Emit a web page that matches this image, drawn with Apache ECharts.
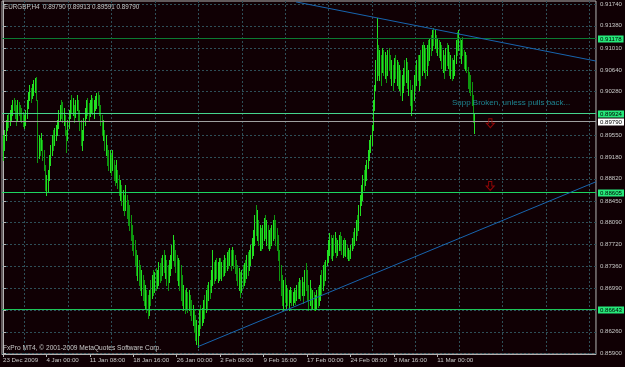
<!DOCTYPE html>
<html><head><meta charset="utf-8">
<script src="https://cdn.jsdelivr.net/npm/echarts@6/dist/echarts.min.js"></script>
<style>html,body{margin:0;padding:0;background:#100004;}#c{width:625px;height:367px;}</style>
</head><body><div id="c"></div>
<script>
const titleText = 'EURGBP,H4  0.89790 0.89913 0.89591 0.89790';
const copyrightText = 'FxPro MT4, \u00a9 2001-2009 MetaQuotes Software Corp.';

const highs = [
0.8955,0.8964,0.8980,0.8989,0.8992,0.8997,0.9005,0.9014,0.9017,0.9014,
0.9005,0.9014,0.9010,0.9005,0.9000,0.8994,0.8989,0.8997,0.9014,0.9027,
0.9039,0.9034,0.9040,0.9047,0.9051,0.9052,0.9014,0.8955,0.8950,0.8958,
0.8947,0.8930,0.8905,0.8888,0.8897,0.8922,0.8938,0.8955,0.8964,0.8967,
0.8972,0.8980,0.8997,0.9005,0.9014,0.9010,0.9000,0.8989,0.8964,0.8980,
0.8997,0.9014,0.9022,0.9017,0.9005,0.9014,0.9022,0.9014,0.8997,0.8980,
0.8964,0.8984,0.9000,0.9014,0.9017,0.9009,0.9014,0.9022,0.9017,0.9014,
0.9020,0.9025,0.9027,0.9022,0.9005,0.8989,0.8980,0.8964,0.8955,0.8938,
0.8930,0.8930,0.8922,0.8930,0.8913,0.8905,0.8913,0.8897,0.8888,0.8880,
0.8872,0.8863,0.8855,0.8872,0.8855,0.8846,0.8838,0.8821,0.8805,0.8788,
0.8779,0.8763,0.8754,0.8746,0.8738,0.8729,0.8721,0.8713,0.8704,0.8696,
0.8688,0.8696,0.8713,0.8721,0.8729,0.8726,0.8733,0.8729,0.8743,0.8741,0.8749,
0.8754,0.8763,0.8754,0.8746,0.8738,0.8746,0.8754,0.8771,0.8788,0.8779,
0.8763,0.8754,0.8749,0.8746,0.8738,0.8721,0.8704,0.8696,0.8699,0.8693,
0.8696,0.8688,0.8679,0.8671,0.8662,0.8654,0.8646,0.8637,0.8662,0.8671,
0.8666,0.8679,0.8688,0.8696,0.8704,0.8709,0.8713,0.8729,0.8763,0.8743,
0.8746,0.8749,0.8743,0.8749,0.8749,0.8743,0.8746,0.8754,0.8749,0.8759,
0.8763,0.8766,0.8763,0.8768,0.8763,0.8754,0.8746,0.8738,0.8733,0.8726,
0.8729,0.8738,0.8741,0.8746,0.8754,0.8759,0.8763,0.8771,0.8783,0.8796,
0.8821,0.8838,0.8830,0.8813,0.8805,0.8800,0.8805,0.8816,0.8821,0.8813,
0.8805,0.8796,0.8800,0.8805,0.8813,0.8821,0.8813,0.8800,0.8788,0.8763,
0.8738,0.8721,0.8713,0.8716,0.8704,0.8699,0.8696,0.8701,0.8696,0.8693,
0.8699,0.8696,0.8704,0.8709,0.8716,0.8713,0.8718,0.8709,0.8729,0.8741,
0.8729,0.8704,0.8713,0.8699,0.8696,0.8693,0.8688,0.8696,0.8701,0.8704,0.8721,
0.8729,0.8738,0.8743,0.8746,0.8763,0.8779,0.8791,0.8788,0.8783,0.8788,
0.8793,0.8783,0.8779,0.8788,0.8793,0.8786,0.8779,0.8783,0.8779,0.8771,
0.8766,0.8763,0.8771,0.8783,0.8793,0.8800,0.8813,0.8821,0.8838,0.8855,
0.8872,0.8888,0.8897,0.8905,0.8913,0.8930,0.8947,0.8955,0.8972,0.9014,
0.9039,0.9081,0.9151,0.9106,0.9097,0.9089,0.9101,0.9097,0.9094,0.9089,
0.9097,0.9101,0.9089,0.9081,0.9072,0.9084,0.9089,0.9081,0.9077,0.9072,
0.9064,0.9056,0.9067,0.9081,0.9084,0.9077,0.9064,0.9047,0.9030,0.9039,
0.9056,0.9072,0.9081,0.9089,0.9089,0.9097,0.9106,0.9111,0.9106,0.9101,
0.9106,0.9114,0.9117,0.9122,0.9131,0.9134,0.9131,0.9122,0.9117,0.9114,
0.9111,0.9106,0.9097,0.9089,0.9101,0.9109,0.9106,0.9094,0.9089,0.9084,
0.9081,0.9089,0.9114,0.9127,0.9131,0.9117,0.9114,0.9119,0.9097,0.9094,
0.9089,0.9069,0.9061,0.9056,0.9044,0.9022,0.89913
];
const lows = [
0.8913,0.8930,0.8947,0.8964,0.8969,0.8972,0.8980,0.8989,0.8997,0.8984,
0.8972,0.8980,0.8989,0.8980,0.8977,0.8970,0.8967,0.8972,0.8984,0.9000,
0.9014,0.9010,0.9017,0.9022,0.9027,0.9014,0.8910,0.8917,0.8922,0.8930,
0.8913,0.8897,0.8863,0.8855,0.8860,0.8880,0.8905,0.8922,0.8930,0.8938,
0.8947,0.8955,0.8967,0.8980,0.8984,0.8977,0.8972,0.8955,0.8927,0.8947,
0.8967,0.8984,0.8994,0.8989,0.8977,0.8985,0.8997,0.8980,0.8964,0.8938,
0.8930,0.8947,0.8972,0.8984,0.8989,0.8980,0.8987,0.8994,0.8990,0.8984,
0.8997,0.9000,0.9005,0.8989,0.8972,0.8955,0.8947,0.8930,0.8922,0.8905,
0.8897,0.8893,0.8888,0.8897,0.8880,0.8872,0.8876,0.8866,0.8855,0.8846,
0.8838,0.8830,0.8821,0.8830,0.8816,0.8805,0.8796,0.8779,0.8763,0.8754,
0.8738,0.8721,0.8713,0.8704,0.8696,0.8688,0.8679,0.8671,0.8666,0.8659,
0.8649,0.8654,0.8671,0.8683,0.8688,0.8693,0.8696,0.8699,0.8704,0.8709,0.8713,
0.8721,0.8726,0.8716,0.8704,0.8696,0.8709,0.8721,0.8733,0.8746,0.8738,
0.8726,0.8713,0.8704,0.8696,0.8679,0.8671,0.8662,0.8657,0.8666,0.8659,
0.8662,0.8654,0.8646,0.8637,0.8626,0.8612,0.8606,0.8601,0.8621,0.8632,
0.8637,0.8642,0.8649,0.8659,0.8666,0.8679,0.8683,0.8693,0.8704,0.8708,
0.8713,0.8716,0.8709,0.8713,0.8716,0.8713,0.8719,0.8721,0.8726,0.8729,
0.8733,0.8738,0.8729,0.8738,0.8733,0.8724,0.8713,0.8704,0.8696,0.8684,
0.8693,0.8699,0.8704,0.8709,0.8716,0.8721,0.8729,0.8738,0.8749,0.8754,
0.8771,0.8788,0.8779,0.8771,0.8763,0.8763,0.8766,0.8779,0.8783,0.8771,
0.8766,0.8763,0.8766,0.8771,0.8779,0.8783,0.8771,0.8763,0.8746,0.8713,
0.8688,0.8671,0.8662,0.8676,0.8666,0.8671,0.8662,0.8676,0.8671,0.8671,
0.8676,0.8672,0.8679,0.8683,0.8683,0.8679,0.8688,0.8674,0.8688,0.8696,
0.8679,0.8662,0.8671,0.8666,0.8666,0.8662,0.8662,0.8666,0.8668,0.8671,0.8679,
0.8688,0.8696,0.8704,0.8713,0.8738,0.8743,0.8754,0.8749,0.8746,0.8754,
0.8759,0.8751,0.8754,0.8763,0.8763,0.8756,0.8751,0.8754,0.8753,0.8749,
0.8746,0.8746,0.8749,0.8763,0.8766,0.8771,0.8779,0.8788,0.8796,0.8821,
0.8838,0.8846,0.8863,0.8872,0.8880,0.8900,0.8913,0.8927,0.8938,0.8964,
0.8997,0.9030,0.9047,0.9056,0.9047,0.9039,0.9061,0.9056,0.9051,0.9044,
0.9056,0.9064,0.9051,0.9039,0.9030,0.9044,0.9051,0.9039,0.9034,0.9030,
0.9022,0.9014,0.9027,0.9039,0.9044,0.9034,0.9022,0.9005,0.8989,0.8997,
0.9014,0.9030,0.9039,0.9047,0.9030,0.9039,0.9056,0.9064,0.9061,0.9051,
0.9056,0.9072,0.9081,0.9089,0.9097,0.9106,0.9101,0.9094,0.9089,0.9086,
0.9081,0.9067,0.9061,0.9051,0.9064,0.9072,0.9067,0.9056,0.9051,0.9047,
0.9051,0.9056,0.9076,0.9089,0.9097,0.9084,0.9076,0.9089,0.9067,0.9064,
0.9061,0.9034,0.9027,0.9022,0.9005,0.8977,0.89591
];
const closes = [
0.8947,0.8955,0.8972,0.8980,0.8977,0.8989,0.8997,0.9005,0.9000,0.8989,
0.8984,0.9005,0.8997,0.8985,0.8984,0.8977,0.8980,0.8994,0.9010,0.9022,
0.9030,0.9017,0.9034,0.9039,0.9044,0.9022,0.8930,0.8947,0.8938,0.8950,
0.8922,0.8905,0.8872,0.8880,0.8893,0.8913,0.8930,0.8947,0.8938,0.8960,
0.8967,0.8977,0.8989,0.9000,0.8994,0.8984,0.8989,0.8964,0.8938,0.8972,
0.8994,0.9009,0.9000,0.9014,0.8984,0.9005,0.9017,0.8989,0.8972,0.8947,
0.8955,0.8977,0.8994,0.9005,0.8997,0.8989,0.9009,0.9017,0.8997,0.9009,
0.9017,0.9020,0.9014,0.8994,0.8977,0.8964,0.8972,0.8938,0.8947,0.8913,
0.8905,0.8922,0.8897,0.8922,0.8888,0.8880,0.8905,0.8872,0.8863,0.8872,
0.8850,0.8855,0.8830,0.8863,0.8821,0.8813,0.8805,0.8788,0.8779,0.8763,
0.8746,0.8729,0.8743,0.8713,0.8704,0.8721,0.8688,0.8679,0.8696,0.8666,
0.8662,0.8688,0.8679,0.8713,0.8696,0.8721,0.8704,0.8726,0.8738,0.8730,0.8721,
0.8749,0.8733,0.8746,0.8713,0.8704,0.8738,0.8746,0.8763,0.8779,0.8746,
0.8733,0.8721,0.8738,0.8704,0.8696,0.8679,0.8688,0.8666,0.8693,0.8671,
0.8688,0.8662,0.8654,0.8662,0.8637,0.8621,0.8629,0.8632,0.8654,0.8646,
0.8659,0.8671,0.8662,0.8688,0.8679,0.8704,0.8696,0.8721,0.8729,0.8716,
0.8738,0.8721,0.8733,0.8743,0.8721,0.8738,0.8726,0.8749,0.8733,0.8754,
0.8743,0.8759,0.8738,0.8763,0.8743,0.8729,0.8721,0.8709,0.8721,0.8696,
0.8721,0.8709,0.8733,0.8721,0.8746,0.8733,0.8754,0.8763,0.8776,0.8788,
0.8813,0.8805,0.8821,0.8779,0.8796,0.8771,0.8796,0.8810,0.8788,0.8805,
0.8776,0.8788,0.8771,0.8796,0.8805,0.8793,0.8779,0.8771,0.8754,0.8721,
0.8704,0.8679,0.8696,0.8683,0.8693,0.8676,0.8688,0.8693,0.8679,0.8688,
0.8693,0.8683,0.8699,0.8688,0.8709,0.8688,0.8713,0.8683,0.8721,0.8704,
0.8688,0.8676,0.8696,0.8671,0.8688,0.8671,0.8683,0.8693,0.8690,0.8696,0.8713,
0.8696,0.8729,0.8713,0.8743,0.8754,0.8771,0.8783,0.8759,0.8776,0.8763,
0.8783,0.8759,0.8771,0.8779,0.8771,0.8763,0.8771,0.8759,0.8766,0.8754,
0.8759,0.8751,0.8766,0.8776,0.8771,0.8793,0.8805,0.8796,0.8830,0.8846,
0.8855,0.8880,0.8872,0.8897,0.8905,0.8922,0.8930,0.8950,0.8964,0.9005,
0.9030,0.9072,0.9097,0.9064,0.9089,0.9047,0.9094,0.9064,0.9084,0.9051,
0.9089,0.9077,0.9061,0.9072,0.9039,0.9077,0.9056,0.9072,0.9044,0.9064,
0.9030,0.9047,0.9061,0.9047,0.9077,0.9039,0.9056,0.9014,0.9022,0.9005,
0.9047,0.9039,0.9072,0.9056,0.9081,0.9047,0.9097,0.9072,0.9097,0.9061,
0.9097,0.9081,0.9111,0.9097,0.9122,0.9114,0.9122,0.9101,0.9111,0.9094,
0.9101,0.9077,0.9089,0.9061,0.9094,0.9081,0.9097,0.9064,0.9081,0.9056,
0.9072,0.9084,0.9106,0.9101,0.9122,0.9094,0.9106,0.9097,0.9077,0.9089,
0.9067,0.9047,0.9034,0.9030,0.9014,0.8979,0.8979
];

const xLabelBars = [0,33,66,99,132,165,198,231,264,297,330];
const xLabels = ['23 Dec 2009','4 Jan 00:00','11 Jan 08:00','18 Jan 16:00','26 Jan 00:00','2 Feb 08:00','9 Feb 16:00','17 Feb 00:00','24 Feb 08:00','3 Mar 16:00','11 Mar 00:00'];
const xGridBars = [16.5,49.5,82.5,115.5,148.5,181.5,214.5,247.5,280.5,313.5,346.5,379.5,412.5,445.5];
const yTickLabels = ['0.85900','0.86260','0.86620','0.86990','0.87360','0.87720','0.88090','0.88450','0.88820','0.89180','0.89550','0.89920','0.90280','0.90640','0.91010','0.91380','0.91740'];
const levelPrices = [0.91178, 0.89924, 0.88605, 0.86643, 0.89790];
const levelLineColors = ['#0b7a32','#46d48e','#1ed460','#1cc458','#a0a0a0'];
const levelBoxColors = ['#26e87a','#26e87a','#26e87a','#26e87a','#ffffff'];
const trendDown = [[222.6, 0.9178], [450.55, 0.9079]];
const trendUp = [[148, 0.8601], [450.55, 0.8877]];
const arrowPoints = [[370.3, 0.8975], [370.2, 0.8870]];
const noteText = 'Supp Broken, unless pulls back...';
const notePoint = [341.1, 0.9009];

const FONT = '"Liberation Sans", Arial, sans-serif';
const TXT = '#c8c8c8';
const GRIDC = '#2e4f58';
const X_MIN = -0.755, X_MAX = 450.55;
const Y_MIN = 0.85888, Y_MAX = 0.91795;
const UP = '#22e022', DOWN = '#0e960e';

const yTicks = yTickLabels.map(Number);
const barData = highs.map((h, i) => [i, h, lows[i], closes[i] >= (i ? closes[i - 1] : closes[i]) ? 1 : 0]);
const levelData = levelPrices.map((p, i) => [i, p]);

const chart = echarts.init(document.getElementById('c'), null, {renderer: 'canvas'});
chart.setOption({
  animation: false,
  backgroundColor: '#100004',
  title: [
    {text: titleText, left: 4, top: 4, padding: 0, textStyle: {fontSize: 6.3, fontWeight: 'normal', color: TXT, fontFamily: FONT}},
    {text: copyrightText, left: 3, top: 345, padding: 0, textStyle: {fontSize: 6.6, fontWeight: 'normal', color: TXT, fontFamily: FONT}}
  ],
  grid: {left: 1, top: 1, width: 598, height: 353, show: true, borderColor: '#b4b4b4', borderWidth: 1, backgroundColor: '#100004'},
  xAxis: [
    {type: 'value', min: X_MIN, max: X_MAX, position: 'bottom',
     axisLine: {show: true, lineStyle: {color: '#b4b4b4'}},
     axisTick: {show: true, length: 3, customValues: xLabelBars, lineStyle: {color: '#b4b4b4'}},
     axisLabel: {show: true, customValues: xLabelBars, align: 'left', margin: 3, fontSize: 6.2, color: TXT, fontFamily: FONT,
       formatter: v => xLabels[xLabelBars.indexOf(Math.round(v))] || ''},
     splitLine: {show: false}},
    {type: 'value', min: X_MIN, max: X_MAX, position: 'bottom',
     axisLine: {show: false}, axisTick: {show: false, customValues: xGridBars}, axisLabel: {show: false},
     splitLine: {show: true, lineStyle: {color: GRIDC, type: [2, 2], width: 1}}}
  ],
  yAxis: {type: 'value', min: Y_MIN, max: Y_MAX, position: 'right',
    axisLine: {show: true, lineStyle: {color: '#b4b4b4'}},
    axisTick: {show: true, length: 3, customValues: yTicks, lineStyle: {color: '#b4b4b4'}},
    axisLabel: {show: true, customValues: yTicks, margin: 4, fontSize: 6.1, color: TXT, fontFamily: FONT, formatter: v => v.toFixed(5)},
    splitLine: {show: true, lineStyle: {color: GRIDC, type: [2, 2], width: 1}}},
  series: [
    {type: 'custom', name: 'bars', xAxisIndex: 0, yAxisIndex: 0, data: barData, encode: {x: 0, y: [1, 2]},
     renderItem: (params, api) => {
       const p1 = api.coord([api.value(0), api.value(1)]);
       const p2 = api.coord([api.value(0), api.value(2)]);
       const px = Math.round(p1[0]) + 0.5;
       return {type: 'line', shape: {x1: px, y1: Math.round(p1[1]), x2: px, y2: Math.round(p2[1]) + 1},
               style: {stroke: api.value(3) ? UP : DOWN, lineWidth: 1}};
     }},
    {type: 'custom', name: 'levels', xAxisIndex: 0, yAxisIndex: 0, data: levelData, encode: {y: 1}, clip: false, silent: true,
     renderItem: (params, api) => {
       const cs = params.coordSys;
       const k = api.value(0), p = api.value(1);
       const y = Math.round(api.coord([X_MIN, p])[1]) + 0.5;
       return {type: 'group', children: [
         {type: 'line', shape: {x1: cs.x, y1: y, x2: cs.x + cs.width, y2: y}, style: {stroke: levelLineColors[k], lineWidth: 1}},
         {type: 'text', x: cs.x + cs.width + 2, y: Math.round(y), style: {text: p.toFixed(5), fill: '#000', backgroundColor: levelBoxColors[k],
           padding: [1, 2, 0, 2], font: '6.1px ' + FONT, verticalAlign: 'middle', align: 'left'}}
       ]};
     }},
    {type: 'line', name: 'trendlines', data: [], silent: true,
     markLine: {silent: true, symbol: ['none', 'none'], animation: false,
       data: [
         [{coord: trendDown[0], lineStyle: {color: '#1764ae', width: 1, type: 'solid'}, label: {show: false}}, {coord: trendDown[1]}],
         [{coord: trendUp[0], lineStyle: {color: '#1764ae', width: 1, type: 'solid'}, label: {show: false}}, {coord: trendUp[1]}]
       ]}},
    {type: 'scatter', name: 'arrows', data: arrowPoints, silent: true,
     symbol: 'path://M3,0 L7,0 L7,5 L10,5 L5,10 L0,5 L3,5 Z', symbolSize: [8, 9],
     itemStyle: {color: 'rgba(0,0,0,0)', borderColor: '#b00808', borderWidth: 1}},
    {type: 'scatter', name: 'note', data: [notePoint], silent: true, symbolSize: 0,
     label: {show: true, position: 'right', distance: 0, formatter: noteText, color: '#22a4b4', fontSize: 8, fontFamily: FONT}}
  ]
});
</script></body></html>
